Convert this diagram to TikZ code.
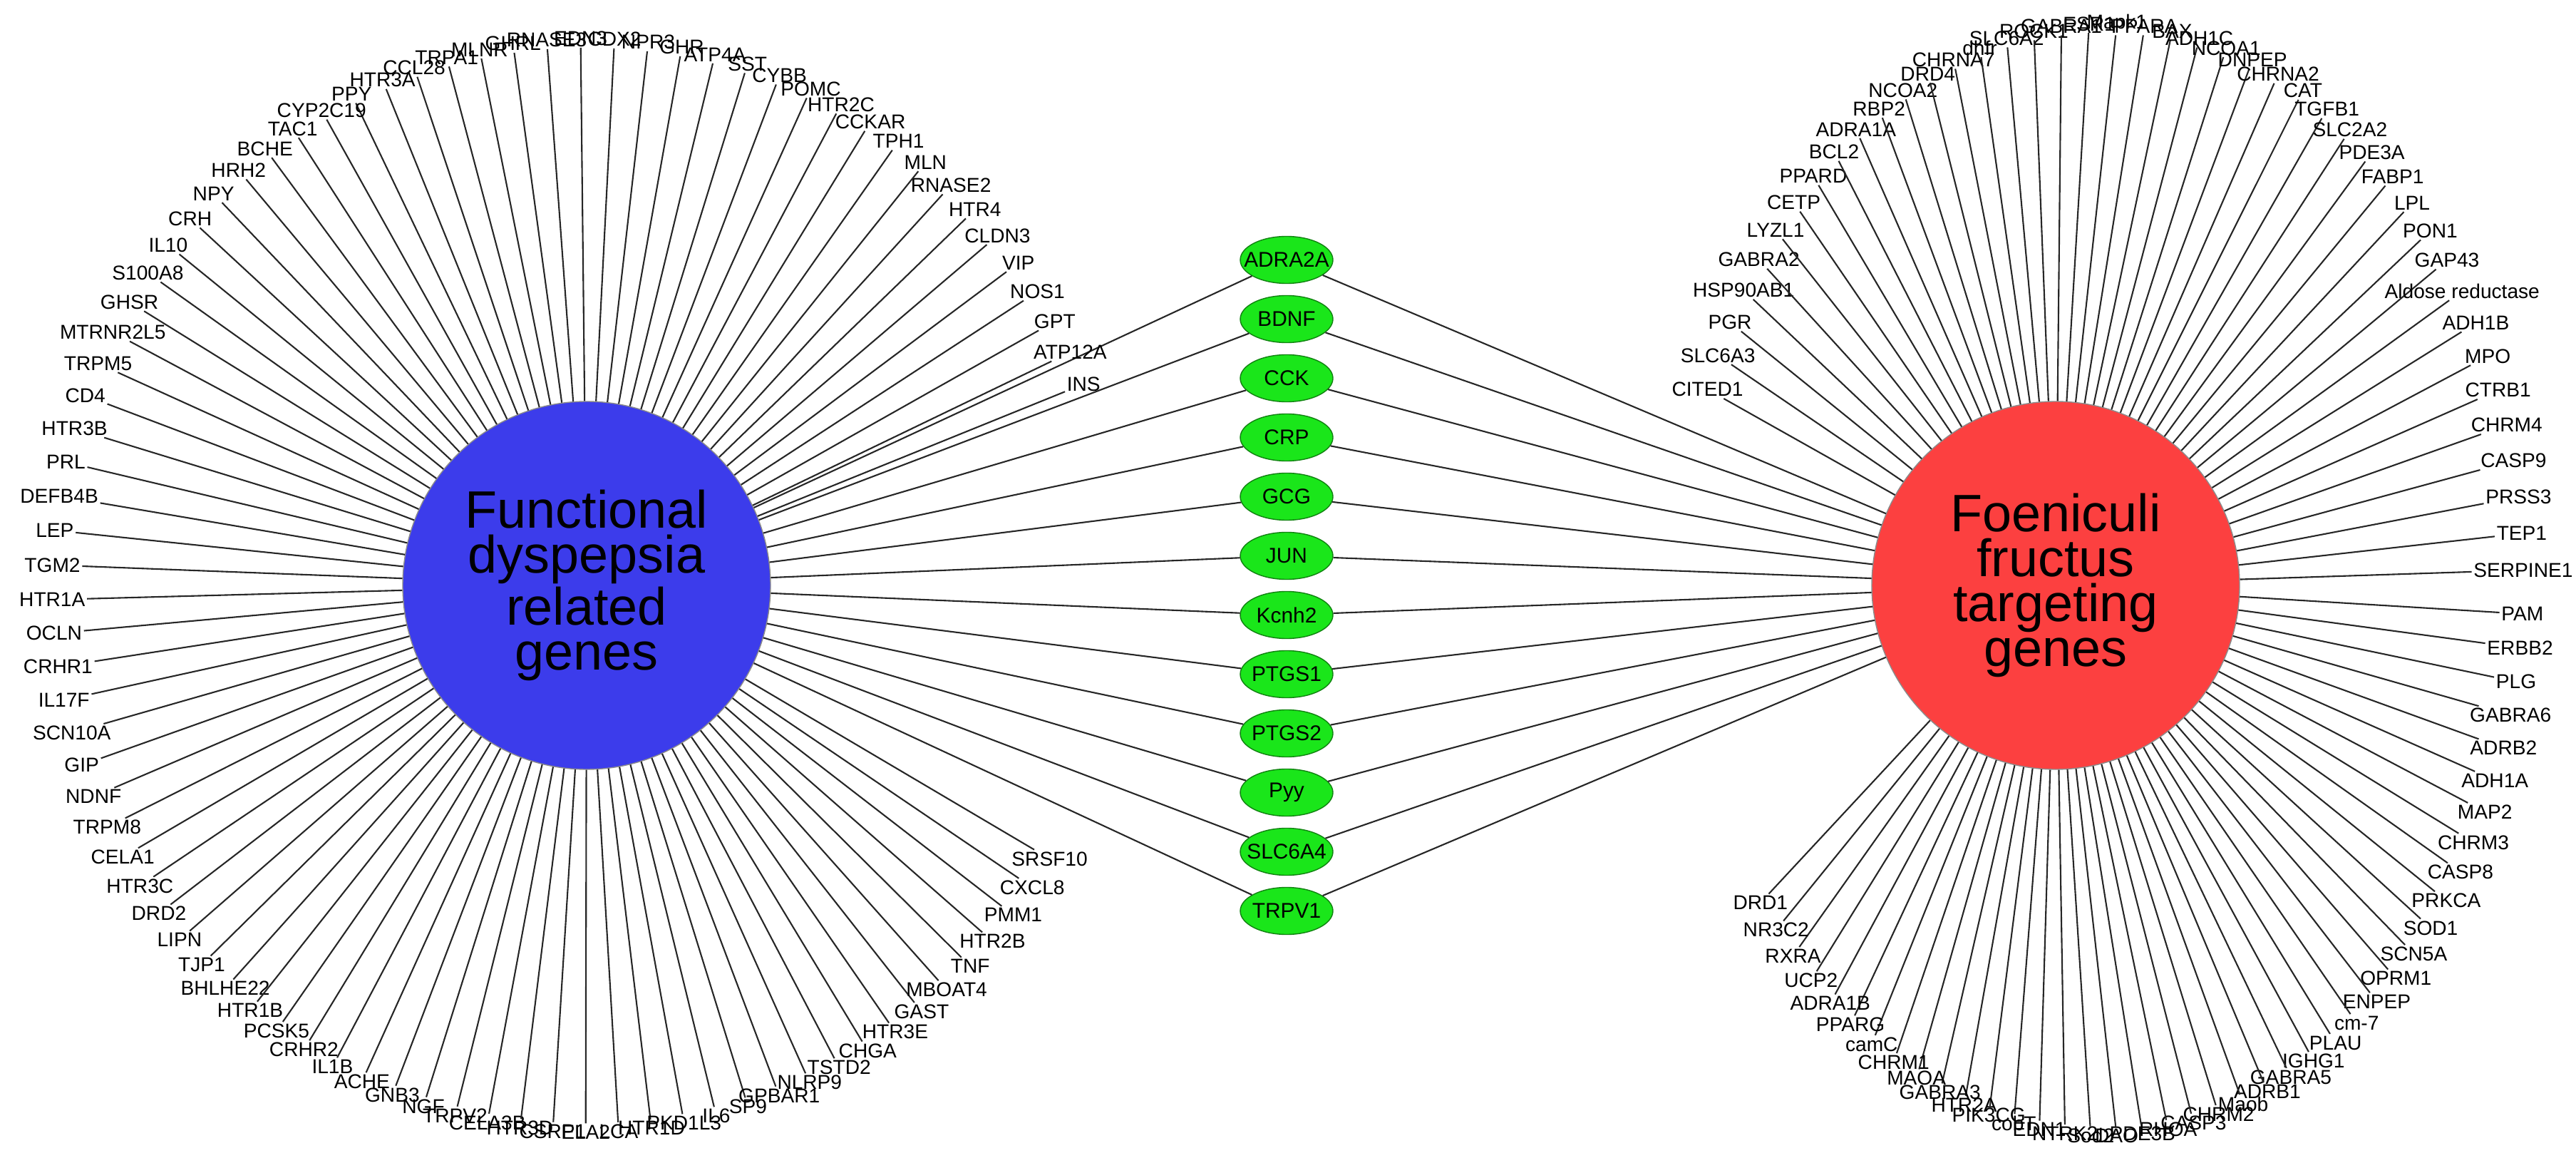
\documentclass[tikz,border=0pt]{standalone}
\usepackage{fontspec}
\setmainfont{Liberation Sans}
\usepackage{tikz}
\usetikzlibrary{shapes.geometric, calc}
\definecolor{fdblue}{RGB}{60,60,235}
\definecolor{ffred}{RGB}{252,64,64}
\definecolor{targetgreen}{RGB}{26,230,26}
\definecolor{targetedge}{RGB}{16,130,16}
\tikzstyle{hub} = [circle,
minimum size=5.16cm,
inner sep=0pt,
align=center,
draw=black!45,
font=\fontsize{21}{18}\selectfont]
\tikzstyle{target} = [ellipse,
minimum width=1.30cm,
minimum height=0.66cm,
inner xsep=-0.3cm,
inner ysep=0pt,
draw=targetedge,
fill=targetgreen,
font=\fontsize{8.5}{10}\selectfont]
\tikzstyle{gene} = [inner sep=0.6pt,
font=\fontsize{8}{9}\selectfont]
\tikzstyle{link} = [line width=0.6pt, black!85]

\begin{document}
\begin{tikzpicture}[node distance=0.83cm]
            \useasboundingbox (0,0) rectangle (36.14,16.30);
            \node (fd) [hub, fill=fdblue] at (8.23,8.09) {Functional\\dyspepsia\\related\\genes};
            \node (ff) [hub, fill=ffred] at (28.84,8.09) {Foeniculi\\fructus\\targeting\\genes};
            \coordinate (ffring) at (29.50,8.17);

            \node (adra2a) [target] at (18.05,12.655) {ADRA2A};
            \node (bdnf) [target, below of=adra2a] {BDNF};
            \node (cck) [target, below of=bdnf] {CCK};
            \node (crp) [target, below of=cck] {CRP};
            \node (gcg) [target, below of=crp] {GCG};
            \node (jun) [target, below of=gcg] {JUN};
            \node (kcnh2) [target, below of=jun] {Kcnh2};
            \node (ptgs1) [target, below of=kcnh2] {PTGS1};
            \node (ptgs2) [target, below of=ptgs1] {PTGS2};
            \node (pyy) [target, below of=ptgs2] {Pyy};
            \node (slc6a4) [target, below of=pyy] {SLC6A4};
            \node (trpv1) [target, below of=slc6a4] {TRPV1};

            \foreach \t in {adra2a,bdnf,cck,crp,gcg,jun,kcnh2,ptgs1,ptgs2,pyy,slc6a4,trpv1} {
                \draw [link] (fd) -- (\t);
                \draw [link] (ff) -- (\t);
            }

            \foreach \g [count=\i] in {INS,ATP12A,GPT,NOS1,VIP,CLDN3,HTR4,RNASE2,MLN,TPH1,CCKAR,HTR2C,POMC,CYBB,SST,ATP4A,GHR,NPR3,CDX2,EDN3,RNASE3,GHRL,MLNR,TRPA1,CCL28,HTR3A,PPY,CYP2C19,TAC1,BCHE,HRH2,NPY,CRH,IL10,S100A8,GHSR,MTRNR2L5,TRPM5,CD4,HTR3B,PRL,DEFB4B,LEP,TGM2,HTR1A,OCLN,CRHR1,IL17F,SCN10A,GIP,NDNF,TRPM8,CELA1,HTR3C,DRD2,LIPN,TJP1,BHLHE22,HTR1B,PCSK5,CRHR2,IL1B,ACHE,GNB3,NGF,TRPV2,CELA3B,HTR3D,CSRP1,ELA2,LCA,HTR1D,PKD1L3,IL6,SP9,GPBAR1,NLRP9,TSTD2,CHGA,HTR3E,GAST,MBOAT4,TNF,HTR2B,PMM1,CXCL8,SRSF10} {
                \pgfmathsetmacro{\a}{\i<46 ? 21.6+(\i-1)*3.634 : 181.5+(\i-45)*3.536}
                \node (fd\i) [gene] at ($(fd)+(\a:7.5 and 7.67)$) {\g};
                \draw [link] (fd) -- (fd\i);
            }

            \foreach \g [count=\i] in {CITED1,SLC6A3,PGR,HSP90AB1,GABRA2,LYZL1,CETP,PPARD,BCL2,ADRA1A,RBP2,NCOA2,DRD4,CHRNA7,dhfr,SLC6A2,ROCK1,GABRA1,ESR1,Mapk1,PPARA,BAX,ADH1C,NCOA1,DNPEP,CHRNA2,CAT,TGFB1,SLC2A2,PDE3A,FABP1,LPL,PON1,GAP43,Aldose reductase,ADH1B,MPO,CTRB1,CHRM4,CASP9,PRSS3,TEP1,SERPINE1,PAM,ERBB2,PLG,GABRA6,ADRB2,ADH1A,MAP2,CHRM3,CASP8,PRKCA,SOD1,SCN5A,OPRM1,ENPEP,cm-7,PLAU,IGHG1,GABRA5,ADRB1,Maob,CHRM2,CASP3,RHOA,PDE3B,DAO,Sod2,NTRK2,EDN1,cobT,PIK3CG,HTR2A,GABRA3,MAOA,CHRM1,camC,PPARG,ADRA1B,UCP2,RXRA,NR3C2,DRD1} {
                \pgfmathsetmacro{\a}{\i<44 ? 160-(\i-1)*3.786 : 0-(\i-43)*3.524}
                \node (ff\i) [gene] at ($(ffring)+(\a:5.9 and 7.8)$) {\g};
                \draw [link] (ff) -- (ff\i);
            }
\end{tikzpicture}
\end{document}
